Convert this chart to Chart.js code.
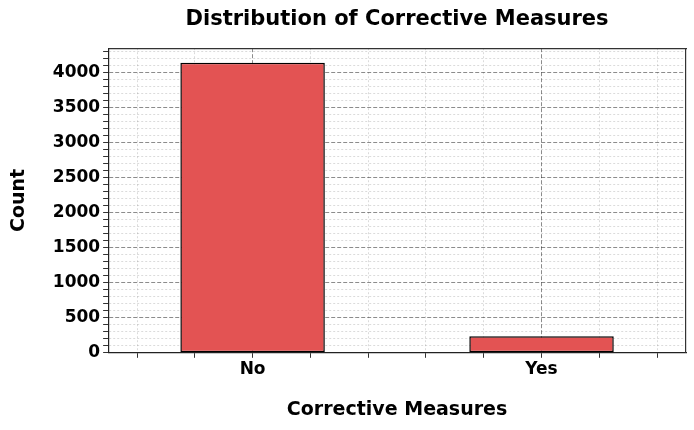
<!DOCTYPE html>
<html><head><meta charset="utf-8">
<script src="https://cdn.jsdelivr.net/npm/chart.js@4.4.1/dist/chart.umd.min.js"></script>
<style>html,body{margin:0;padding:0;background:#fff;}canvas{display:block}</style>
</head><body>
<canvas id="c" width="694" height="430"></canvas>
<script>
const categories = ['No', 'Yes'];
const counts = [4140, 235];
const yMajorStep = 500;
const yMinorStep = 100;
const xMinorStep = 0.2;
const chartTitle = 'Distribution of Corrective Measures';
const xTitle = 'Corrective Measures';
const yTitle = 'Count';

const FONT = "'DejaVu Sans', sans-serif";
const yMax = Math.max(...counts) * 1.05;
const xMin = -0.5, xMax = categories.length - 0.5;
const barWidthUnits = 0.5;

const isInt = v => Math.abs(v - Math.round(v)) < 1e-6;
const isYMajor = v => Math.abs(v / yMajorStep - Math.round(v / yMajorStep)) < 1e-6;

const MAJOR_COLOR = 'rgba(0,0,0,0.45)';
const MINOR_COLOR = 'rgba(0,0,0,0.14)';

new Chart(document.getElementById('c'), {
  type: 'bar',
  data: {
    datasets: [{
      data: categories.map((c, i) => ({ x: i, y: counts[i] })),
      backgroundColor: 'rgb(227,83,83)',
      borderColor: '#000',
      borderWidth: 1.5,
      borderSkipped: false,
      categoryPercentage: 1,
      barPercentage: barWidthUnits / xMinorStep
    }]
  },
  options: {
    responsive: false,
    animation: false,
    devicePixelRatio: 1,
    layout: { padding: { left: 0, right: 8, top: 0, bottom: 0 } },
    plugins: { legend: { display: false }, tooltip: { enabled: false }, title: { display: false } },
    scales: {
      x: {
        type: 'linear', position: 'bottom', min: xMin, max: xMax, offset: false,
        afterBuildTicks: s => {
          const t = [];
          for (let v = xMin + xMinorStep / 2; v < xMax; v += xMinorStep) t.push({ value: Math.round(v * 10) / 10 });
          s.ticks = t;
        },
        ticks: {
          autoSkip: false, maxRotation: 0, padding: 2, color: '#000',
          font: { family: FONT, size: 17, weight: 'bold' },
          callback: v => isInt(v) ? categories[Math.round(v)] : ''
        },
        grid: {
          offset: false, drawOnChartArea: true, drawTicks: true, tickLength: 5,
          tickColor: '#333', tickWidth: 1,
          color: c => (c.tick && isInt(c.tick.value)) ? MAJOR_COLOR : MINOR_COLOR,
          lineWidth: 1
        },
        border: {
          display: true, color: '#222', width: 1.2,
          dash: c => (c.tick && isInt(c.tick.value)) ? [4, 2] : [2, 2]
        },
        title: {
          display: true, text: xTitle, color: '#000',
          font: { family: FONT, size: 19, weight: 'bold' },
          padding: { top: 16, bottom: 9 }
        }
      },
      xTop: {
        type: 'linear', position: 'top', min: xMin, max: xMax, axis: 'x',
        ticks: { display: false },
        grid: { display: false, drawTicks: false },
        border: { display: true, color: '#333', width: 1.2 },
        title: {
          display: true, text: chartTitle, color: '#000',
          font: { family: FONT, size: 21, weight: 'bold' },
          padding: { top: 7, bottom: 16 }
        }
      },
      y: {
        type: 'linear', position: 'left', min: 0, max: yMax,
        afterBuildTicks: s => {
          const t = [];
          for (let v = 0; v <= yMax; v += yMinorStep) t.push({ value: v });
          s.ticks = t;
        },
        ticks: {
          autoSkip: false, padding: 3, color: '#000',
          font: { family: FONT, size: 17, weight: 'bold' },
          callback: v => isYMajor(v) ? String(Math.round(v)) : ''
        },
        grid: {
          drawTicks: true, tickLength: 5, tickColor: '#333', tickWidth: 1,
          color: c => (c.tick && isYMajor(c.tick.value)) ? MAJOR_COLOR : MINOR_COLOR,
          lineWidth: 1
        },
        border: {
          display: true, color: '#222', width: 1.2,
          dash: c => (c.tick && isYMajor(c.tick.value)) ? [4, 2] : [2, 2]
        },
        title: {
          display: true, text: yTitle, color: '#000',
          font: { family: FONT, size: 19, weight: 'bold' },
          padding: { top: 8, bottom: 19 }
        }
      },
      yRight: {
        type: 'linear', position: 'right', min: 0, max: yMax, axis: 'y',
        ticks: { display: false },
        grid: { display: false, drawTicks: false },
        border: { display: true, color: '#333', width: 1.2 }
      }
    }
  }
});
</script>
</body></html>
